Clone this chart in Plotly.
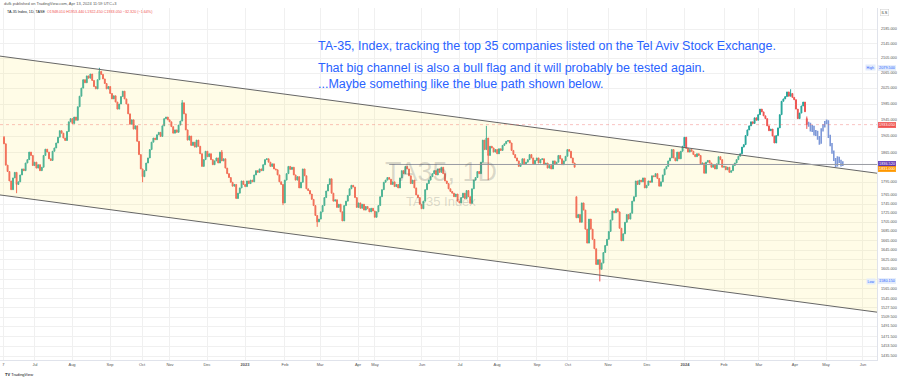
import numpy as np
import plotly.graph_objects as go

# ---------------- data ----------------
closes = [
    1886, 1835, 1820, 1798, 1778, 1805, 1818, 1790, 1796, 1812,
    1826, 1822, 1840, 1848, 1866, 1858, 1834, 1842, 1828, 1836,
    1822, 1830, 1858, 1873, 1866, 1850, 1846, 1868, 1876, 1888,
    1902, 1918, 1912, 1900, 1894, 1916, 1940, 1948, 1936, 1952,
    1944, 1978, 2005, 2026, 2048, 2040, 2058, 2052, 2063, 2046,
    2030, 2024, 2048, 2070, 2062, 2050, 2038, 2024, 2030, 2012,
    1998, 2006, 1990, 1972, 1985, 2004, 2018, 1998, 1985, 1960,
    1934, 1945, 1922, 1930, 1892, 1860, 1826, 1808, 1822, 1840,
    1852, 1872, 1890, 1900, 1896, 1908, 1914, 1904, 1930, 1948,
    1952, 1945, 1940, 1928, 1912, 1920, 1914, 1932, 1942, 1988,
    1960, 1920, 1895, 1905, 1882, 1890, 1878, 1895, 1880, 1862,
    1832, 1848, 1868, 1855, 1862, 1848, 1836, 1845, 1852, 1840,
    1866, 1845, 1850, 1828, 1815, 1806, 1795, 1786, 1790, 1758,
    1770, 1782, 1798, 1790, 1785, 1798, 1792, 1800, 1796, 1812,
    1822, 1818, 1826, 1822, 1836, 1848, 1850, 1842, 1832, 1838,
    1826, 1824, 1812, 1796, 1790, 1748, 1800, 1815, 1832, 1825,
    1830, 1812, 1800, 1808, 1782, 1795, 1826, 1810, 1780, 1776,
    1768, 1756, 1742, 1720, 1706, 1712, 1728, 1742, 1760, 1775,
    1790, 1803, 1770, 1752, 1755, 1738, 1745, 1728, 1708, 1742,
    1752, 1765, 1780, 1788, 1784, 1760, 1738, 1748, 1736, 1745,
    1732, 1740, 1735, 1728, 1736, 1730, 1716, 1728, 1742, 1762,
    1778, 1795, 1800, 1806, 1802, 1790, 1796, 1785, 1790, 1782,
    1805, 1822, 1815, 1832, 1826, 1810, 1792, 1800, 1782, 1766,
    1760, 1745, 1735, 1752, 1778, 1792, 1800, 1808, 1815, 1822,
    1812, 1826, 1818, 1830, 1815, 1798, 1792, 1780, 1774, 1770,
    1762, 1768, 1752, 1748, 1760, 1770, 1758, 1776, 1762, 1747,
    1780, 1800, 1806, 1820, 1815, 1842, 1895, 1872, 1900, 1858,
    1880, 1876, 1866, 1872, 1862, 1874, 1870, 1882, 1886, 1892,
    1894, 1888, 1870, 1860, 1852, 1845, 1832, 1838, 1850, 1838,
    1842, 1848, 1860, 1852, 1838, 1846, 1852, 1840, 1848, 1850,
    1836, 1840, 1828, 1834, 1826, 1845, 1838, 1842, 1858, 1850,
    1836, 1845, 1856, 1872, 1868, 1852, 1840, 1830, 1715, 1722,
    1705, 1748, 1732, 1690, 1660, 1712, 1690, 1668, 1648, 1615,
    1625, 1605, 1618, 1640, 1655, 1668, 1685, 1710, 1730, 1726,
    1735, 1728, 1692, 1665, 1680, 1705, 1722, 1712, 1725, 1752,
    1762, 1798, 1790, 1800, 1796, 1805, 1782, 1788, 1798, 1795,
    1810, 1808, 1815, 1804, 1786, 1796, 1812, 1826, 1832, 1845,
    1852, 1872, 1852, 1845, 1866, 1850, 1868, 1880, 1902, 1875,
    1866, 1872, 1868, 1860, 1855, 1862, 1858, 1838, 1840, 1816,
    1842, 1846, 1840, 1830, 1835, 1826, 1838, 1855, 1848, 1830,
    1832, 1824, 1830, 1818, 1822, 1834, 1840, 1848, 1856, 1862,
    1878, 1884, 1906, 1920, 1930, 1940, 1936, 1950, 1944, 1958,
    1972, 1965, 1955, 1948, 1930, 1918, 1922, 1905, 1888, 1906,
    1925, 1958, 1992, 1998, 2004, 2016, 2005, 2012, 2002, 1996,
    1972, 1948, 1962, 1980, 1990, 1965.37, 1933.05,
]
first_open = 1902
gap_opens = {318: 1762, 446: 1948.01}
wick_highs = {0: 1905, 53: 2079.5, 99: 1995, 121: 1871, 268: 1930, 437: 2023, 446: 1953.44}
wick_lows = {7: 1770, 77: 1795, 155: 1743, 174: 1695, 269: 1800, 331: 1580.15, 446: 1922.45}

# projected "blue path"
blue_closes = [1935, 1920, 1928, 1910, 1915, 1900, 1890, 1920, 1930, 1938,
               1942, 1905, 1885, 1868, 1850, 1836, 1852, 1845, 1838, 1840]
blue_highs = [1940, 1938, 1932, 1930, 1920, 1918, 1905, 1924, 1934, 1942,
              1946, 1944, 1908, 1888, 1870, 1852, 1856, 1855, 1848, 1844]
blue_lows = [1928, 1916, 1915, 1906, 1905, 1896, 1884, 1886, 1916, 1926,
             1934, 1900, 1880, 1862, 1845, 1830, 1832, 1840, 1832, 1833]

# channel endpoints (bar index, price)
channel_x = [-2.22, 485.0]
channel_upper = [2111, 1816]
channel_lower = [1766, 1519]
hline_start = 214
hline_price = 1836.52
last_price = 1933.05

# axis ticks
x_tick_pos = [-0.4, 17.2, 37.8, 58.9, 76.7, 92.2, 112.8, 133.9, 156.1, 175.6, 196.7, 206.1,
              232.2, 253.3, 273.9, 296.1, 313.3, 335.6, 357.2, 378.3, 400.0, 419.4, 439.4,
              456.7, 477.2]
x_tick_text = ["7", "Jul", "Aug", "Sep", "Oct", "Nov", "Dec", "<b>2023</b>", "Feb", "Mar", "Apr",
               "May", "Jun", "Jul", "Aug", "Sep", "Oct", "Nov", "Dec", "<b>2024</b>", "Feb",
               "Mar", "Apr", "May", "Jun"]
y_tick_vals = [2185, 2145, 2105, 2065, 2025, 1985, 1945, 1905, 1865, 1795, 1765, 1745,
               1725, 1705, 1685, 1665, 1645, 1625, 1605, 1585, 1565, 1545, 1527.5, 1509.5,
               1491.5, 1471.5, 1453.5, 1435.5]
y_tick_hidden = [1585]   # covered by the "Low" price box in the reference

# ---------------- build OHLC ----------------
n = len(closes)
idx = list(range(n))
opens = [first_open] + closes[:-1]
for k, v in gap_opens.items():
    opens[k] = v
highs = [max(o, c) for o, c in zip(opens, closes)]
lows = [min(o, c) for o, c in zip(opens, closes)]
for k, v in wick_highs.items():
    highs[k] = v
for k, v in wick_lows.items():
    lows[k] = v

blue_idx = list(range(n, n + len(blue_closes)))
blue_opens = [closes[-1]] + blue_closes[:-1]

fig = go.Figure()

# channel fill
fig.add_trace(go.Scatter(
    x=[channel_x[0], channel_x[1], channel_x[1], channel_x[0]],
    y=[channel_upper[0], channel_upper[1], channel_lower[1], channel_lower[0]],
    fill="toself", fillcolor="rgba(255,236,120,0.18)", mode="lines",
    line=dict(width=0), hoverinfo="skip"))
for ys in (channel_upper, channel_lower):
    fig.add_trace(go.Scatter(x=channel_x, y=ys, mode="lines",
                             line=dict(color="#666666", width=1), hoverinfo="skip"))

# price line (dotted) and horizontal ray
fig.add_trace(go.Scatter(x=channel_x, y=[last_price, last_price], mode="lines",
                         line=dict(color="rgba(239,83,80,0.35)", width=1, dash="dot"),
                         hoverinfo="skip"))
fig.add_trace(go.Scatter(x=[hline_start, channel_x[1]], y=[hline_price, hline_price],
                         mode="lines", line=dict(color="#9a9ca3", width=1), hoverinfo="skip"))

fig.add_trace(go.Candlestick(
    x=idx, open=opens, high=highs, low=lows, close=closes,
    increasing=dict(line=dict(color="#26a69a", width=1), fillcolor="#26a69a"),
    decreasing=dict(line=dict(color="#ef5350", width=1), fillcolor="#ef5350"),
    whiskerwidth=0))

fig.add_trace(go.Ohlc(
    x=blue_idx, open=blue_opens, high=blue_highs, low=blue_lows, close=blue_closes,
    increasing=dict(line=dict(color="#7d98d8", width=1.6)),
    decreasing=dict(line=dict(color="#7d98d8", width=1.6)),
    tickwidth=0.35))

# ---------------- layout ----------------
PT, PB, PW = 8, 360, 877   # plot top/bottom pixel, plot width
FONT = "Liberation Sans"


def py(pix):
    return (PB - pix) / (PB - PT)


def px(pix):
    return pix / PW


ann = []
# headers
ann.append(dict(x=px(2), y=py(4), xref="paper", yref="paper", xanchor="left", yanchor="middle",
                text="dufk published on TradingView.com, Apr 13, 2024 11:59 UTC+3",
                showarrow=False, font=dict(size=4, color="#555555", family=FONT)))
ann.append(dict(x=px(5), y=py(12), xref="paper", yref="paper", xanchor="left", yanchor="middle",
                text=("TA-35 Index, 1D, TASE  <span style='color:#ef5350'>O1948.010 H1953.440 "
                      "L1922.450 C1933.050 \u221232.320 (\u22121.64%)</span>"),
                showarrow=False, font=dict(size=3.7, color="#131722", family=FONT)))
ann.append(dict(x=px(3), y=py(374), xref="paper", yref="paper", xanchor="left", yanchor="middle",
                text="<b>TV</b> TradingView", showarrow=False,
                font=dict(size=4, color="#131722", family=FONT)))

# blue comment text
ann.append(dict(x=px(317), y=py(46), xref="paper", yref="paper", xanchor="left",
                yanchor="middle", showarrow=False, borderpad=0,
                text="TA-35, Index, tracking the top 35 companies listed on the Tel Aviv Stock Exchange.",
                font=dict(size=12.5, color="#2962ff", family=FONT)))
ann.append(dict(x=px(317), y=py(75.5), xref="paper", yref="paper", xanchor="left",
                yanchor="middle", showarrow=False, borderpad=0, align="left",
                text=("That big channel is also a bull flag and it will probably be tested again."
                      "<br>...Maybe something like the blue path shown below."),
                font=dict(size=12.5, color="#2962ff", family=FONT)))

# watermark
ann.append(dict(x=px(441), y=py(172), xref="paper", yref="paper", xanchor="center",
                yanchor="middle", text="TA35, 1D", showarrow=False,
                font=dict(size=27, color="rgba(90,90,90,0.22)", family=FONT)))
ann.append(dict(x=px(441), y=py(201), xref="paper", yref="paper", xanchor="center",
                yanchor="middle", text="TA-35 Index", showarrow=False,
                font=dict(size=13, color="rgba(90,90,90,0.22)", family=FONT)))

# price-scale tick labels
for v in y_tick_vals:
    if v in y_tick_hidden:
        continue
    ann.append(dict(x=1, y=np.log10(v), xref="paper", yref="y", xanchor="left",
                    yanchor="middle", xshift=3, text=f"{v:.3f}", showarrow=False,
                    borderpad=0, font=dict(size=3.8, color="#555555", family=FONT)))


def scale_label(price, text, bg, fg="white", yshift=0):
    ann.append(dict(x=1, y=np.log10(price), xref="paper", yref="y", xanchor="left",
                    yanchor="middle", xshift=1, yshift=yshift, text=text, showarrow=False,
                    bgcolor=bg, bordercolor=bg, borderwidth=0.5, borderpad=0.6,
                    font=dict(size=3.8, color=fg, family=FONT)))


scale_label(2079.5, "2079.500", "#e3ecfb", fg="#2962ff")
scale_label(last_price, "1933.050", "#ef5350")
scale_label(hline_price, "1836.520", "#5e35b1")
scale_label(1831.0, "1831.000", "#ff9800", yshift=-2.5)
scale_label(1580.15, "1580.150", "#e3ecfb", fg="#2962ff")
for price, t in ((2079.5, "High"), (1580.15, "Low")):
    ann.append(dict(x=1, y=np.log10(price), xref="paper", yref="y", xanchor="right",
                    yanchor="middle", xshift=-1, text=t, showarrow=False, bgcolor="#e3ecfb",
                    borderpad=0.6, font=dict(size=3.6, color="#2962ff", family=FONT)))
ann.append(dict(x=px(880), y=py(13), xref="paper", yref="paper", xanchor="left",
                yanchor="middle", text="ILS", showarrow=False, bgcolor="white",
                bordercolor="#cccccc", borderwidth=0.5, borderpad=1,
                font=dict(size=3.8, color="#333333", family=FONT)))

fig.update_layout(
    width=900, height=379,
    margin=dict(l=0, r=900 - PW, t=PT, b=379 - PB),
    paper_bgcolor="white", plot_bgcolor="white",
    showlegend=False,
    annotations=ann,
    xaxis=dict(range=[channel_x[0], channel_x[1]], tickmode="array", tickvals=x_tick_pos,
               ticktext=x_tick_text, showgrid=True, gridcolor="#f0f0f0", gridwidth=1,
               zeroline=False, showline=True, linecolor="#e0e3eb", ticks="", automargin=False,
               tickfont=dict(size=4, color="#555555", family=FONT),
               rangeslider=dict(visible=False)),
    yaxis=dict(type="log", range=[np.log10(1428.4), np.log10(2245.7)], side="right",
               tickmode="array", tickvals=y_tick_vals, showticklabels=False,
               showgrid=True, gridcolor="#f0f0f0", gridwidth=1, zeroline=False,
               showline=True, linecolor="#e0e3eb", ticks="", automargin=False),
)

fig.write_html("out.html", config={"displayModeBar": False},
               post_script="document.body.style.margin='0px';document.body.style.overflow='hidden';")
